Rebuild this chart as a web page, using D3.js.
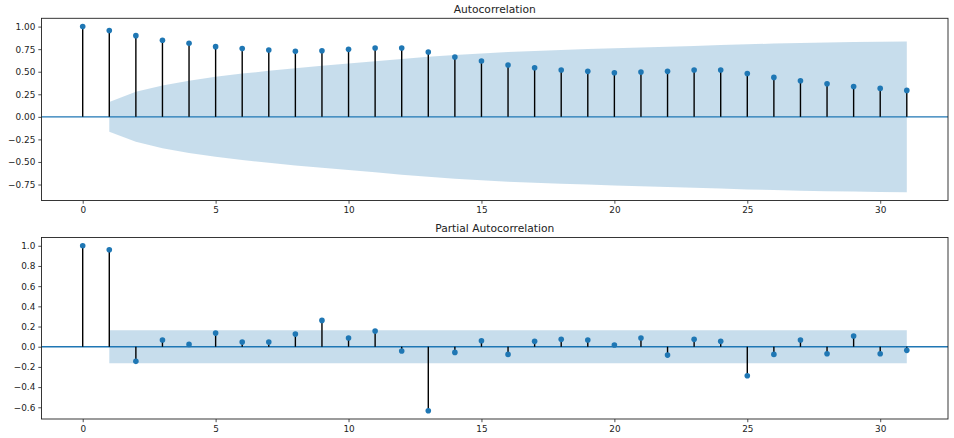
<!DOCTYPE html>
<html><head><meta charset="utf-8">
<script src="https://cdn.jsdelivr.net/npm/d3@7"></script>
<style>
html,body{margin:0;padding:0;background:#fff;}
svg{display:block;font-family:"DejaVu Sans",sans-serif;}
</style></head><body>
<svg id="chart" width="954" height="438"></svg>
<script>
const lags = d3.range(0, 32);
const acfValues = [1.000,0.956,0.900,0.848,0.815,0.778,0.756,0.741,0.726,0.733,0.748,0.763,0.763,0.719,0.663,0.619,0.574,0.544,0.519,0.504,0.489,0.496,0.504,0.519,0.519,0.481,0.437,0.400,0.367,0.337,0.315,0.293];
const acfBand = [null,0.165,0.277,0.348,0.400,0.443,0.479,0.510,0.539,0.565,0.590,0.615,0.641,0.665,0.686,0.703,0.718,0.730,0.741,0.751,0.760,0.769,0.777,0.786,0.795,0.804,0.812,0.819,0.824,0.828,0.832,0.835];
const pacfValues = [1.000,0.960,-0.145,0.066,0.023,0.135,0.046,0.046,0.125,0.261,0.086,0.155,-0.043,-0.634,-0.056,0.059,-0.076,0.053,0.073,0.066,0.017,0.086,-0.083,0.073,0.053,-0.287,-0.076,0.066,-0.069,0.106,-0.069,-0.036];
const pacfBand = [null,0.163,0.163,0.163,0.163,0.163,0.163,0.163,0.163,0.163,0.163,0.163,0.163,0.163,0.163,0.163,0.163,0.163,0.163,0.163,0.163,0.163,0.163,0.163,0.163,0.163,0.163,0.163,0.163,0.163,0.163,0.163];
const xTicks = [0,5,10,15,20,25,30];
const acfYTicks = [-0.75,-0.50,-0.25,0.00,0.25,0.50,0.75,1.00];
const pacfYTicks = [-0.6,-0.4,-0.2,0.0,0.2,0.4,0.6,0.8,1.0];
const titles = ["Autocorrelation","Partial Autocorrelation"];

const svg = d3.select("#chart");
const left = 41.5, right = 948;
const x = d3.scaleLinear().domain([-1.55, 32.55]).range([left, right]);
const blue = "#1f77b4";
const fmtMinus = f => v => f(v).replace("-", "\u2212");

function panel(top, bottom, values, band, yDomain, yTicks, fmt, title) {
  const y = d3.scaleLinear().domain(yDomain).range([bottom, top]);
  const g = svg.append("g");
  const bandData = lags.map((l,i)=>({l, b: band[i]})).filter(d=>d.b!==null);
  g.append("path").datum(bandData)
    .attr("d", d3.area().x(d=>x(d.l)).y0(d=>y(-d.b)).y1(d=>y(d.b)))
    .attr("fill", blue).attr("fill-opacity", 0.25).attr("stroke","none");
  g.append("line").attr("x1", left).attr("x2", right).attr("y1", y(0)).attr("y2", y(0))
    .attr("stroke", blue).attr("stroke-width", 1.4);
  g.selectAll("line.stem").data(lags).join("line").attr("class","stem")
    .attr("x1", d=>x(d)).attr("x2", d=>x(d)).attr("y1", y(0)).attr("y2", (d,i)=>y(values[i]))
    .attr("stroke","#000").attr("stroke-width",1.4);
  g.selectAll("circle").data(lags).join("circle")
    .attr("cx", d=>x(d)).attr("cy", (d,i)=>y(values[i])).attr("r", 2.8).attr("fill", blue);
  // axes
  const xAxis = d3.axisBottom(x).tickValues(xTicks).tickSize(3.2).tickPadding(3).tickFormat(d3.format("d"));
  const yAxis = d3.axisLeft(y).tickValues(yTicks).tickSize(3.2).tickPadding(3).tickFormat(fmtMinus(fmt));
  const ax = g.append("g").attr("transform", `translate(0,${bottom})`).call(xAxis);
  const ay = g.append("g").attr("transform", `translate(${left},0)`).call(yAxis);
  [ax, ay].forEach(a => {
    a.select(".domain").remove();
    a.selectAll("text").attr("font-size", 8.9).attr("font-family","DejaVu Sans").attr("fill","#222");
    a.selectAll("line").attr("stroke","#222").attr("stroke-width",0.8);
  });
  g.append("rect").attr("x", left).attr("y", top).attr("width", right-left).attr("height", bottom-top)
    .attr("fill","none").attr("stroke","#222").attr("stroke-width",0.9);
  g.append("text").attr("x", (left+right)/2).attr("y", top-5.4).attr("text-anchor","middle")
    .attr("font-size", 10.7).attr("fill","#222").text(title);
}

panel(18.3, 200.5, acfValues, acfBand, [-0.927, 1.092], acfYTicks, d3.format(".2f"), titles[0]);
panel(237.5, 419, pacfValues, pacfBand, [-0.716, 1.082], pacfYTicks, d3.format(".1f"), titles[1]);
</script>
</body></html>
